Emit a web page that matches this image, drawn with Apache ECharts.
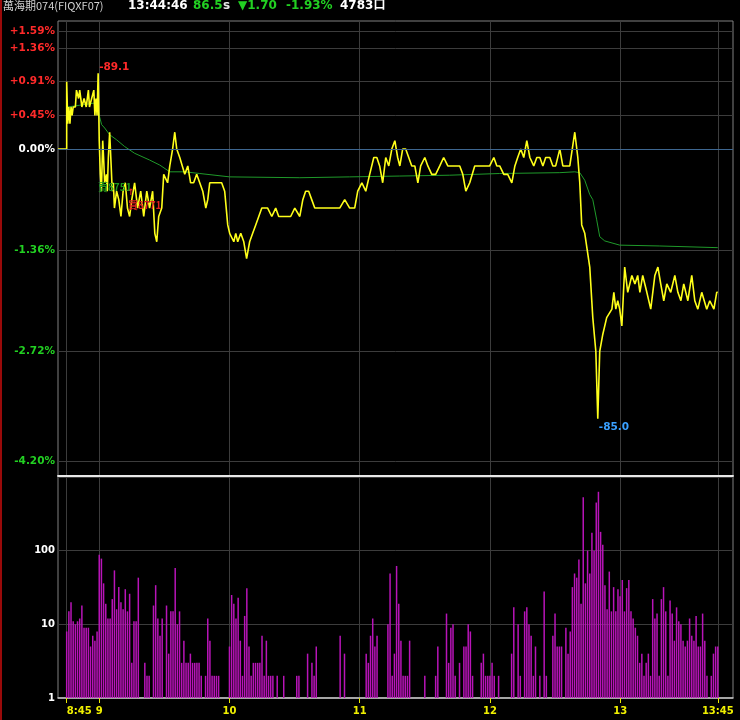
<!DOCTYPE html>
<html><head><meta charset="utf-8">
<script src="https://cdn.jsdelivr.net/npm/echarts@6/dist/echarts.min.js"></script>
<style>html,body{margin:0;padding:0;background:#000;}#c{width:740px;height:720px;}</style>
</head><body><div id="c"></div><script>
// ---------- data ----------
const prevClose = 88.2;
const xTickTimes = [0, 15, 75, 135, 195, 255, 300];           // minutes after 8:45
const xTickLabels = ['8:45', '9', '10', '11', '12', '13', '13:45'];
const yTickPrices = [84.5, 85.8, 87.0, 88.2, 88.6, 89.0, 89.4, 89.6];
const yTickLabels = ['-4.20%', '-2.72%', '-1.36%', '0.00%', '+0.45%', '+0.91%', '+1.36%', '+1.59%'];

const priceTimes = [
  -4,0,0,0.5,1,1.5,2,2.5,3,4,
  4.5,5.5,6,7,8,9,10,10.5,11.5,12.5,
  13,13.5,14,14.5,15,15.5,16,16.3,16.6,17,
  17.5,18.3,18.7,19.2,19.8,20.5,21,21.5,22,23,
  24,25,26,27,28,29,30,31.3,32.7,34.1,
  35.5,36.9,38.2,39.6,40.6,41.5,42.4,43.8,44.7,45.6,
  46.5,47.5,48.8,49.8,50.7,52.1,53,54.4,55.8,57.1,
  58.5,59.9,61.3,62.7,64.1,65,65.9,67.3,68.7,70,
  71.4,72.8,74.2,75.1,76,77,77.9,78.8,80.2,81.6,
  82.9,84.3,85.7,87.1,88.5,89.9,91.2,92.6,94.5,96.3,
  97.7,99.5,101.4,103.2,105.1,107.4,108.8,110.1,111.5,112.9,
  114.3,116.6,118.9,121.2,123.5,125.8,128.1,130.4,132.7,134.1,
  136,137.8,139.6,141.5,142.9,144.2,145.6,147,148.4,149.8,
  151.2,152.5,153.5,154.8,156.2,157.6,159,160.4,161.8,163.1,
  165,166.4,168.2,170,171.9,173.7,175.6,177.4,179.3,181.1,
  182.5,183.9,184.8,185.7,188,190.3,192.6,194.9,196.8,198.2,
  199.5,201.4,203.2,205.1,206.5,207.8,209.2,210.6,212,213.4,
  215.2,216.6,218,219.4,220.7,222.6,224,225.3,227.2,228.6,
  231.8,234.1,235.5,236.4,237.3,238.7,241,242.4,243.8,244.7,
  245.6,247,248.8,251.2,252.1,253,253.9,254.8,255.8,257.1,
  258.5,260.4,261.8,263.1,264.1,265.4,267.3,269.1,271,272.4,
  273.7,275.1,276.5,278.3,280.2,281.6,283,284.3,286.2,288,
  289.4,290.8,292.6,293.5,294.9,296.3,298.2,299.5,300
];
const prices = [
  88.2,88.2,89.0,88.5,88.7,88.5,88.7,88.6,88.7,88.7,
  88.9,88.8,88.9,88.7,88.8,88.7,88.9,88.7,88.8,88.9,
  88.6,88.8,88.6,89.1,88.3,87.9,87.7,88.0,88.3,88.1,
  87.8,87.9,87.7,88.1,88.4,88.0,87.7,87.8,87.5,87.7,
  87.6,87.4,87.7,87.8,87.5,87.4,87.6,87.8,87.5,87.7,
  87.4,87.7,87.5,87.7,87.2,87.1,87.4,87.5,87.9,87.9,
  87.8,88.0,88.2,88.4,88.2,88.1,88.1,87.9,88.0,87.8,
  87.8,87.9,87.8,87.7,87.5,87.6,87.8,87.8,87.8,87.8,
  87.8,87.7,87.3,87.2,87.2,87.1,87.2,87.1,87.2,87.1,
  86.9,87.1,87.2,87.3,87.4,87.5,87.5,87.5,87.4,87.5,
  87.4,87.4,87.4,87.4,87.5,87.4,87.6,87.7,87.7,87.6,
  87.5,87.5,87.5,87.5,87.5,87.5,87.6,87.5,87.5,87.7,
  87.8,87.7,87.9,88.1,88.1,88.0,87.8,88.1,88.0,88.2,
  88.3,88.1,88.0,88.2,88.2,88.1,88.0,88.0,87.8,88.0,
  88.1,88.0,87.9,87.9,88.0,88.1,88.0,88.0,88.0,88.0,
  87.9,87.7,87.7,87.8,88.0,88.0,88.0,88.0,88.1,88.0,
  88.0,87.9,87.9,87.8,88.0,88.1,88.2,88.1,88.3,88.1,
  88.0,88.1,88.1,88.0,88.1,88.1,88.0,88.0,88.2,88.0,
  88.0,88.4,88.1,87.8,87.3,87.2,86.8,86.2,85.8,85.0,
  85.8,86.0,86.2,86.3,86.5,86.3,86.4,86.3,86.1,86.8,
  86.5,86.7,86.6,86.7,86.5,86.7,86.5,86.3,86.7,86.8,
  86.6,86.4,86.6,86.5,86.7,86.5,86.4,86.6,86.4,86.7,
  86.4,86.3,86.5,86.5,86.3,86.4,86.3,86.5,86.5
];

const avgTimes = [0.5,6,13.8,15.2,16.1,17.5,19.8,23,26.7,31.3,38.2,42.9,47.5,54.4,61.3,75.1,107.4,130.4,153.5,176.5,199.5,227.2,234.1,236.4,238.7,241,242.4,244.2,245.6,247.9,254.8,273.3,300];
const avgPrices = [88.70,88.72,88.75,88.58,88.49,88.45,88.37,88.31,88.23,88.15,88.07,88.01,87.93,87.93,87.91,87.87,87.86,87.87,87.88,87.89,87.91,87.92,87.93,87.92,87.83,87.66,87.60,87.36,87.16,87.11,87.06,87.05,87.03];

// volume per minute, index = minutes after 8:45 (0 = no trade)
const volumes = [
  8,15,20,11,10,11,12,18,9,9,9,5,7,6,8,
  88,78,36,19,12,12,22,54,16,32,20,16,30,15,26,
  3,11,11,43,0,0,3,2,2,0,18,34,12,7,12,
  0,18,4,15,15,58,10,15,3,6,3,3,4,3,3,
  3,3,2,0,2,12,6,2,2,2,2,0,0,0,0,
  5,25,19,12,23,6,2,13,31,5,2,3,3,3,3,
  7,2,6,2,2,2,0,2,0,0,2,0,0,0,0,
  0,2,2,0,0,0,4,0,3,2,5,0,0,0,0,
  0,0,0,0,0,0,7,0,4,0,0,0,0,0,0,
  0,0,0,4,3,7,12,5,7,0,0,0,0,10,49,
  2,4,62,19,6,2,2,2,6,0,0,0,0,0,0,
  2,0,0,0,0,2,5,0,0,0,14,3,9,10,2,
  0,3,0,5,5,10,8,2,0,0,0,3,4,2,2,
  2,3,2,0,2,0,0,0,0,0,4,17,0,10,2,
  0,15,17,10,7,2,5,0,2,0,28,2,0,0,7,
  14,5,5,5,0,9,4,8,32,49,43,76,19,530,36,
  100,49,175,100,450,630,180,120,34,16,52,15,32,15,30,
  24,40,15,31,40,15,12,9,7,3,4,2,3,4,2,
  22,12,14,2,22,32,15,2,21,14,6,17,11,10,6,
  5,6,12,7,6,13,5,5,14,6,2,0,2,4,5,
  5
];

const extremeTimes = [14.5, 244.7];
const extremePrices = [89.1, 85.0];
const extremeTexts = ['-89.1', '-85.0'];
const tradeTimes = [14.4, 28.2];
const tradePrices = [87.75, 87.53];
const tradeTexts = ['賣8751', '買8771'];
const arrowTime = 29.6, arrowPrice = 87.68;

const header = {
  name: '萬海期074(FIQXF07)', time: '13:44:46', last: '86.5', unit: 's',
  change: '▼1.70', pct: '-1.93%', volume: '4783口'
};

// ---------- chart ----------
const GREEN = '#22d022', RED = '#ff2a2a';
const chart = echarts.init(document.getElementById('c'), null, {renderer: 'canvas'});
const priceData = priceTimes.map((t, i) => [t, prices[i]]);
const avgData = avgTimes.map((t, i) => [t, avgPrices[i]]);
const volData = volumes.map((v, i) => v > 0 ? [i, v] : null).filter(Boolean);

const labelFont = {fontFamily: 'DejaVu Sans', fontWeight: 'bold'};

const option = {
  backgroundColor: '#000',
  animation: false,
  grid: [
    {left: 58, width: 675, top: 21, height: 455, show: true, borderColor: '#808080', borderWidth: 1},
    {left: 58, width: 675, top: 477, height: 221, show: true, borderColor: '#808080', borderWidth: 1}
  ],
  xAxis: [
    {gridIndex: 0, type: 'value', min: -4, max: 307,
     axisLine: {show: true, onZero: false, lineStyle: {color: '#e8e8e8', width: 2}},
     axisTick: {show: false, customValues: xTickTimes},
     axisLabel: {show: false, customValues: xTickTimes},
     splitLine: {show: true, lineStyle: {color: '#3c3c3c', width: 1}}},
    {gridIndex: 1, type: 'value', min: -4, max: 307,
     axisLine: {show: true, onZero: false, lineStyle: {color: '#c8c8c8', width: 1.5}},
     axisTick: {show: true, customValues: xTickTimes, length: 5, lineStyle: {color: '#e8e800'}},
     axisLabel: {show: true, customValues: xTickTimes, margin: 8, color: '#f0f000', fontSize: 10, ...labelFont,
       formatter: v => {
         const i = xTickTimes.indexOf(v);
         const s = i >= 0 ? xTickLabels[i] : '';
         return i === 0 ? '{l|' + s + '}' : s;
       },
       rich: {l: {padding: [0, 0, 0, 25], color: '#f0f000', fontSize: 10, ...labelFont}}},
     splitLine: {show: true, lineStyle: {color: '#3c3c3c', width: 1}}}
  ],
  yAxis: [
    {gridIndex: 0, type: 'value', min: 84.32, max: 89.72,
     axisLine: {show: false}, axisTick: {show: false, customValues: yTickPrices},
     axisLabel: {customValues: yTickPrices, margin: 3, fontSize: 10.5, ...labelFont,
       formatter: v => {
         const i = yTickPrices.findIndex(p => Math.abs(p - v) < 1e-6);
         const s = i >= 0 ? yTickLabels[i] : '';
         if (s.startsWith('+')) return '{p|' + s + '}';
         if (s.startsWith('-')) return '{n|' + s + '}';
         return '{z|' + s + '}';
       },
       rich: {p: {color: RED, fontSize: 10.5, ...labelFont},
              n: {color: GREEN, fontSize: 10.5, ...labelFont},
              z: {color: '#ffffff', fontSize: 10.5, ...labelFont}}},
     splitLine: {show: true, lineStyle: {color: '#3c3c3c', width: 1}}},
    {gridIndex: 1, type: 'log', logBase: 10, min: 1, max: 1000,
     axisLine: {show: false}, axisTick: {show: false},
     axisLabel: {margin: 3, color: '#ffffff', fontSize: 10, ...labelFont,
       formatter: v => (v >= 1000 ? '' : String(Math.round(v)))},
     splitLine: {show: true, lineStyle: {color: '#3c3c3c', width: 1}}}
  ],
  series: [
    {type: 'line', name: 'avg', xAxisIndex: 0, yAxisIndex: 0, data: avgData,
     symbol: 'none', lineStyle: {color: '#1f9a2a', width: 1}, z: 2,
     markLine: {silent: true, symbol: 'none', label: {show: false},
       lineStyle: {color: '#3e6790', width: 1, type: 'solid'},
       data: [{yAxis: prevClose}]}},
    {type: 'line', name: 'price', xAxisIndex: 0, yAxisIndex: 0, data: priceData,
     symbol: 'none', lineStyle: {color: '#ffff1a', width: 1.6}, z: 3,
     markPoint: {silent: true, symbol: 'circle', symbolSize: 0,
       data: [
         {coord: [extremeTimes[0], extremePrices[0]],
          label: {show: true, formatter: extremeTexts[0], position: 'right', distance: 1, offset: [0, -6],
                  color: RED, fontSize: 10.5, ...labelFont}},
         {coord: [extremeTimes[1], extremePrices[1]],
          label: {show: true, formatter: extremeTexts[1], position: 'right', distance: 1, offset: [0, 9],
                  color: '#3aa0ff', fontSize: 10.5, ...labelFont}},
         {coord: [tradeTimes[0], tradePrices[0]],
          label: {show: true, formatter: tradeTexts[0], position: 'right', distance: 0,
                  color: '#1f9a1f', fontSize: 10, fontWeight: 'bold', fontFamily: 'Noto Sans CJK TC'}},
         {coord: [tradeTimes[1], tradePrices[1]],
          label: {show: true, formatter: tradeTexts[1], position: 'right', distance: 0,
                  color: '#e02020', fontSize: 10, fontWeight: 'bold', fontFamily: 'Noto Sans CJK TC'}},
         {coord: [arrowTime, arrowPrice],
          label: {show: true, formatter: '↑', position: 'inside',
                  color: '#e02020', fontSize: 9, fontWeight: 'bold', fontFamily: 'DejaVu Sans'}}
       ]}},
    {type: 'bar', name: 'vol', xAxisIndex: 1, yAxisIndex: 1, data: volData,
     barWidth: 1.5, itemStyle: {color: '#b814b8'}, z: 2}
  ],
  graphic: [
    {type: 'line', shape: {x1: 1, y1: 0, x2: 1, y2: 720}, style: {stroke: '#9a0a0a', lineWidth: 2}},
    {type: 'text', x: 3, y: 6, style: {text: header.name, fill: '#d0d0d0', font: '11px "Noto Sans CJK TC", sans-serif', verticalAlign: 'middle'}},
    {type: 'text', x: 128, y: 6, style: {text: header.time, fill: '#ffffff', font: 'bold 12px "DejaVu Sans"', verticalAlign: 'middle'}},
    {type: 'text', x: 193, y: 6, style: {text: header.last, fill: GREEN, font: 'bold 12px "DejaVu Sans"', verticalAlign: 'middle'}},
    {type: 'text', x: 223, y: 6, style: {text: header.unit, fill: '#e8e8e8', font: 'bold 12px "DejaVu Sans"', verticalAlign: 'middle'}},
    {type: 'text', x: 238, y: 6, style: {text: header.change, fill: GREEN, font: 'bold 12px "DejaVu Sans"', verticalAlign: 'middle'}},
    {type: 'text', x: 286, y: 6, style: {text: header.pct, fill: GREEN, font: 'bold 12px "DejaVu Sans"', verticalAlign: 'middle'}},
    {type: 'text', x: 340, y: 6, style: {text: header.volume, fill: '#ffffff', font: 'bold 12px "DejaVu Sans", "Noto Sans CJK TC"', verticalAlign: 'middle'}}
  ]
};
chart.setOption(option);
</script></body></html>
